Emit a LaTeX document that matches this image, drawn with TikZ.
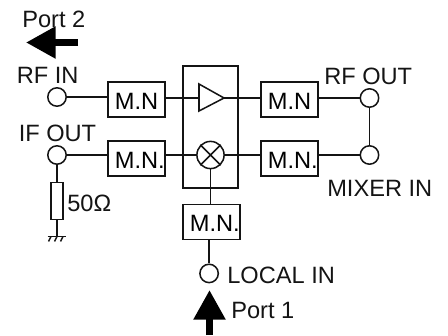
\documentclass[tikz,border=0pt]{standalone}
\usepackage{fontspec}
\setmainfont{Liberation Sans}
\usetikzlibrary{arrows.meta,positioning,calc}
\definecolor{ink}{RGB}{20,20,20}
\tikzset{
  wire/.style={draw=ink,line width=0.38mm},
  mnbox/.style={wire,minimum width=14.25mm,minimum height=8.85mm,inner sep=0pt,text height=4.75mm,text depth=0pt,font=\fontsize{16.8pt}{18pt}\selectfont},
  port/.style={wire,circle,fill=white,minimum size=4.6mm,inner sep=0pt},
  lbl/.style={anchor=base west,inner sep=0pt,text=ink,font=\fontsize{16.8pt}{18pt}\selectfont},
  bigarr/.style={-{Triangle[length=7.4mm,width=7.6mm]},line width=1.75mm,draw=black},
}
\begin{document}
\begin{tikzpicture}[x=0.25mm,y=-0.25mm]
  \useasboundingbox (0,0) rectangle (448,335);
  % centre block
  \node[wire,minimum width=13.75mm,minimum height=30.5mm,inner sep=0pt] (core) at (210.5,127) {};
  \node[wire,circle,minimum size=6.8mm,inner sep=0pt,fill=white] (mixer) at (210.5,155) {};
  \draw[wire] (mixer.45)--(mixer.225) (mixer.135)--(mixer.315);
  \coordinate (ampin) at (199,98);
  \coordinate (ampout) at (224,98);
  \draw[wire,line join=miter] (199,84)--(ampout)--(199,111)--cycle;

  % matching networks
  \node[mnbox] (mn1) at (136.5,99.5) {M.N};
  \node[mnbox] (mn2) at (136.5,158.5) {M.N\rlap{.}};
  \node[mnbox] (mn3) at (289.5,99.5) {M.N};
  \node[mnbox] (mn4) at (289.5,158.5) {M.N\rlap{.}};
  \node[mnbox] (mn5) at (211.5,222) {M.N\rlap{.}};

  % ports
  \node[port] (rfin) at (57,97) {};
  \node[port] (ifout) at (57,155) {};
  \node[port] (rfout) at (369.5,98) {};
  \node[port] (mixin) at (369.5,155) {};
  \node[port,below=5.75mm of mn5.south,xshift=-0.6mm] (locin) {};

  % load
  \node[wire,minimum width=3mm,minimum height=9.25mm,inner sep=0pt,below=4.25mm of ifout.south] (load) {};
  \coordinate[below=4mm of load.south] (gnd);

  % connections
  \draw[wire] (rfin)--(mn1.west|-rfin);
  \draw[wire] (ifout)--(mn2.west|-ifout);
  \draw[wire] (mn1.east|-ampin)--(ampin);
  \draw[wire] (ampout)--(mn3.west|-ampout);
  \draw[wire] (mn2.east|-mixer)--(mixer);
  \draw[wire] (mixer)--(mn4.west|-mixer);
  \draw[wire] (mn3.east|-rfout)--(rfout);
  \draw[wire] (mn4.east|-mixin)--(mixin);
  \draw[wire] (rfout)--(mixin);
  \draw[wire] (mixer)--(mixer|-mn5.north);
  \draw[wire] (locin)--(locin|-mn5.south);
  \draw[wire] (ifout)--(load);
  \draw[wire] (load)--(gnd);

  % ground
  \draw[wire] ($(gnd)+(-9.5,0)$)--($(gnd)+(8.5,0)$);
  \foreach \dx in {-6,0,6}
    \draw[wire] ($(gnd)+(\dx,0)$)--($(gnd)+(\dx-2.5,5)$);

  % port arrows
  \coordinate (p2tail) at (78,42.5);
  \coordinate (p2tip) at (26,42.5);
  \coordinate (p1tail) at (209.5,335);
  \coordinate (p1tip) at (209.5,290);
  \draw[bigarr] (p2tail)--(p2tip);
  \draw[bigarr] (p1tail)--(p1tip);

  % labels
  \node[lbl] (port2txt) at (22,27) {Port 2};
  \node[lbl] (rfintxt) at (16.5,83.5) {RF IN};
  \node[lbl] (ifouttxt) at (18.5,141) {IF OUT};
  \node[lbl] (rfouttxt) at (324,84) {RF OUT};
  \node[lbl] (mixintxt) at (327,196) {MIXER IN};
  \node[lbl] (locintxt) at (227,283) {LOCAL IN};
  \node[lbl] (port1txt) at (231,318) {Port 1};
  \node[lbl] (loadtxt) at (67,211) {50Ω};
\end{tikzpicture}
\end{document}
